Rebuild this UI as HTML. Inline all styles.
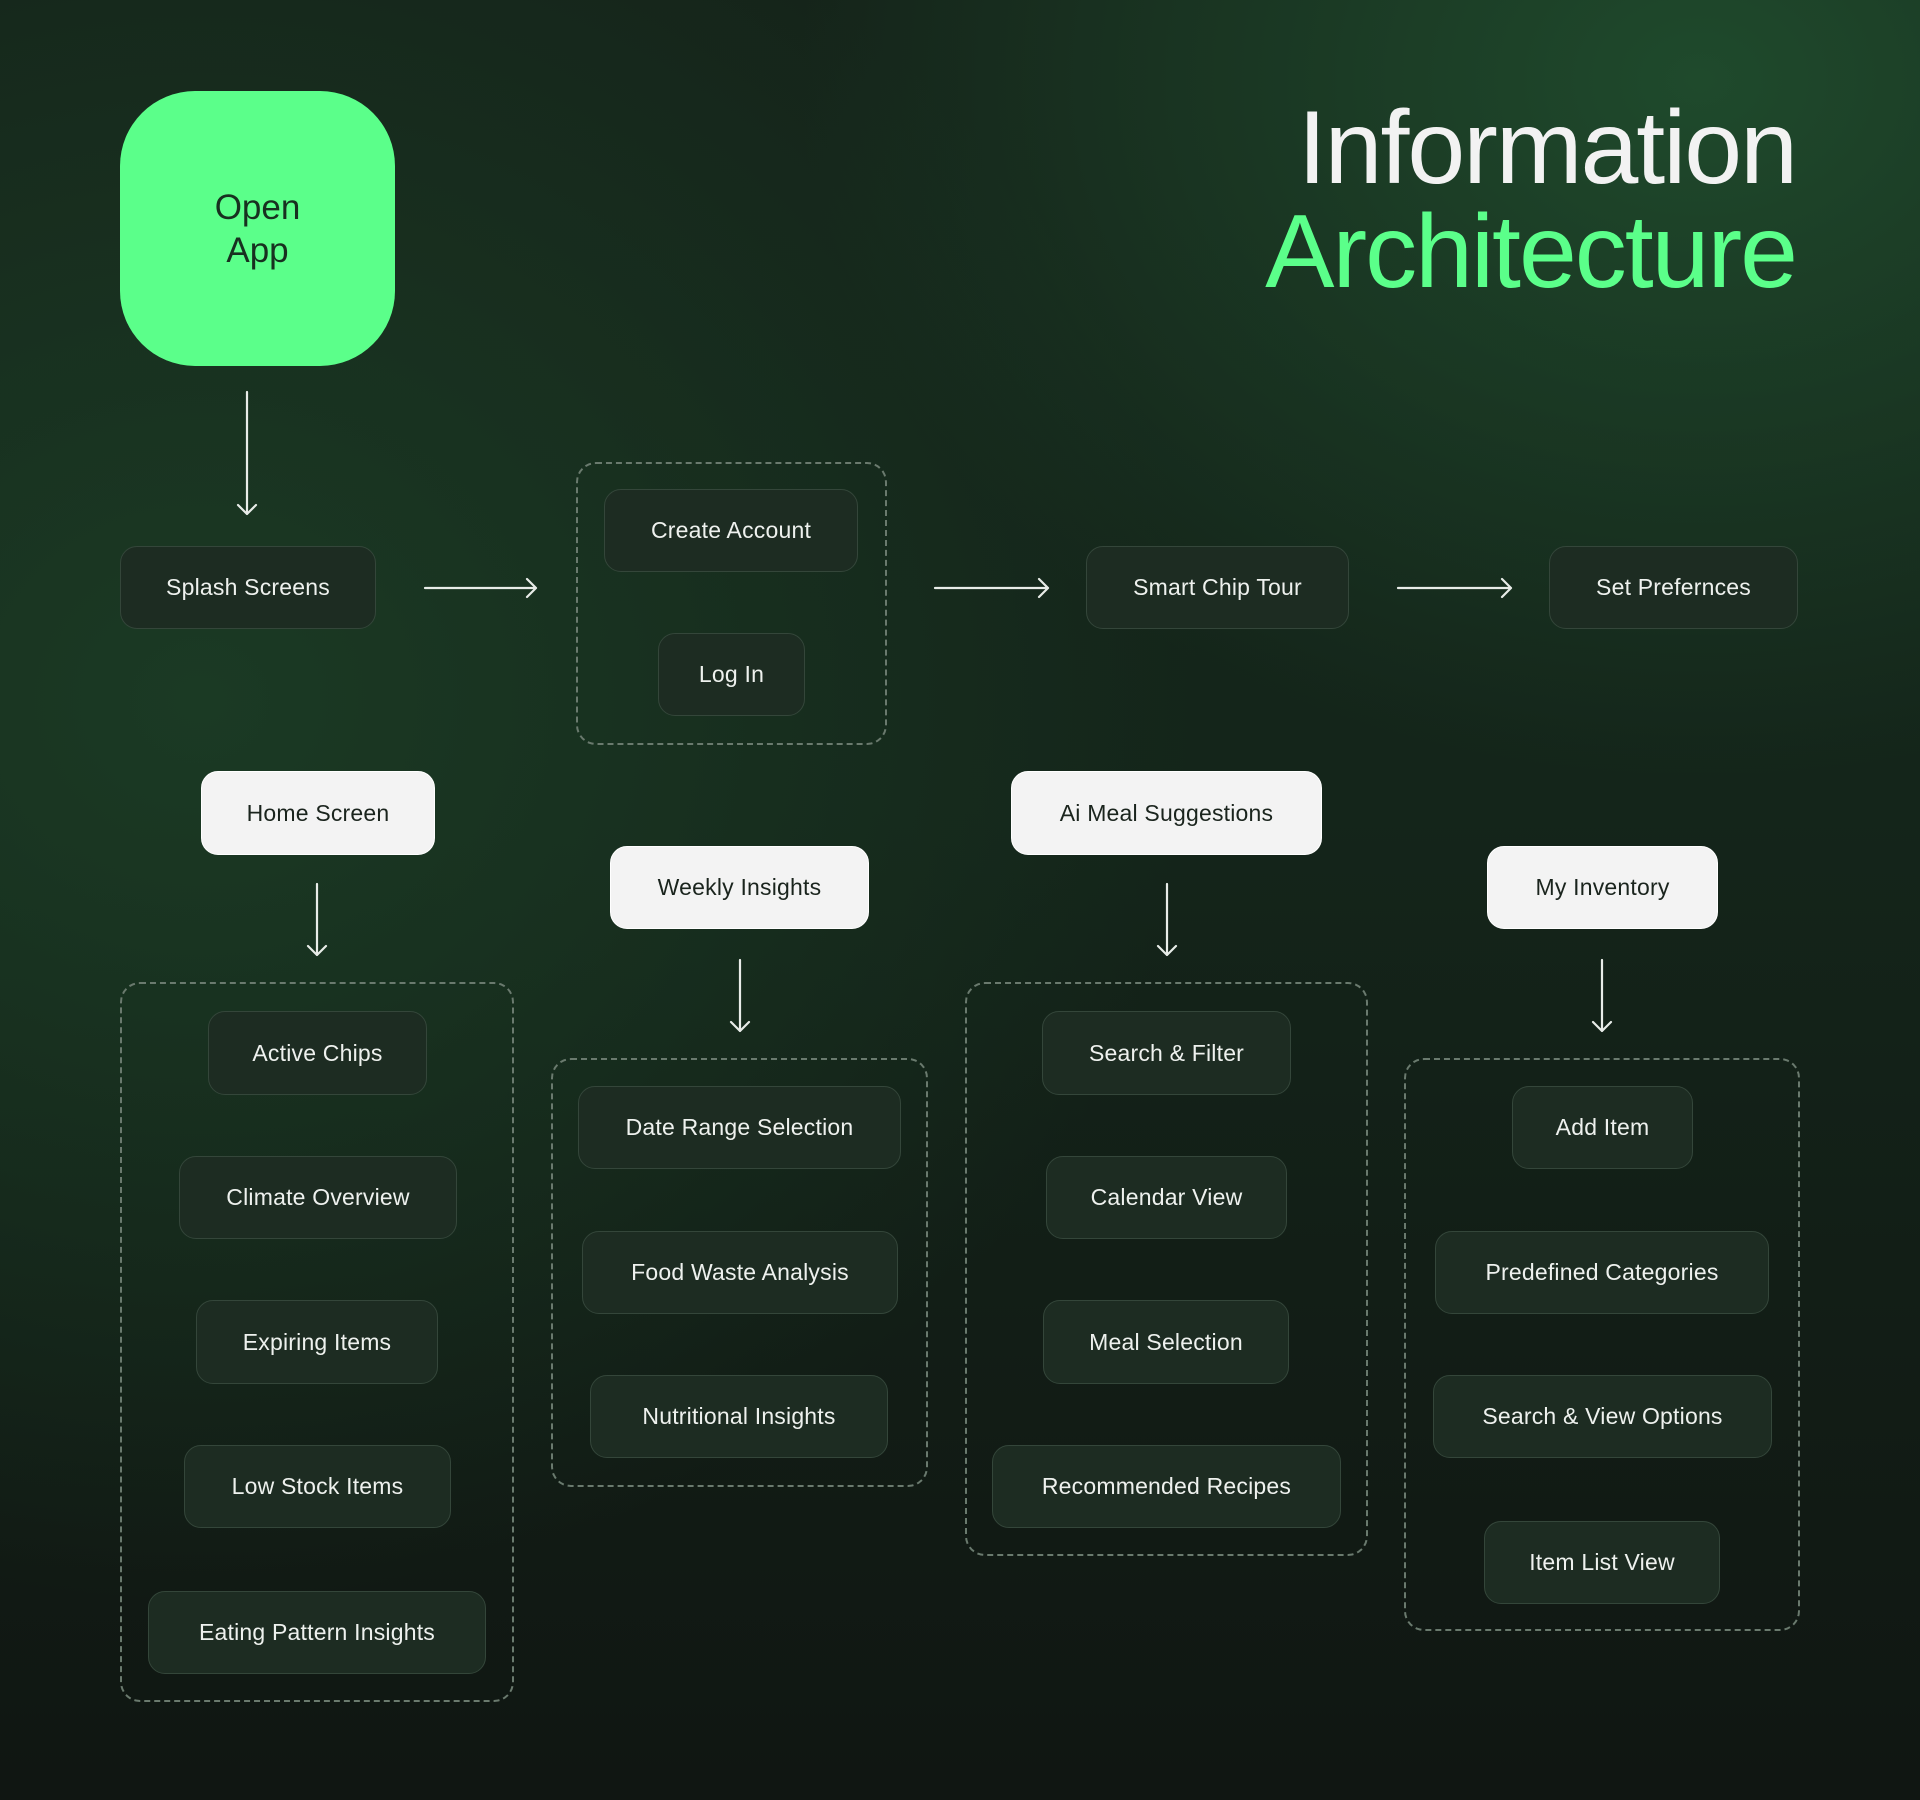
<!DOCTYPE html>
<html><head><meta charset="utf-8"><style>
*{margin:0;padding:0;box-sizing:border-box}
body{width:1920px;height:1800px;overflow:hidden;position:relative;font-family:"Liberation Sans",sans-serif;
background:radial-gradient(ellipse 900px 700px at 1700px 80px,#1f4a2c 0%,rgba(31,74,44,0) 100%),
radial-gradient(ellipse 1000px 900px at 200px 700px,#1b3a24 0%,rgba(27,58,36,0) 100%),
linear-gradient(180deg,#15241a 0%,#14251a 45%,#101612 100%);}
.b{position:absolute;display:flex;align-items:center;justify-content:center;background:#1d2c22;border:1.5px solid #34463a;border-radius:17px;color:#eef1ee;font-size:23px;letter-spacing:0.2px;white-space:nowrap}
.w{background:#f3f3f3;border-color:#fff;color:#1a241d}
.d{position:absolute;border:2px dashed #6a7a6e;border-radius:20px}
svg{position:absolute;left:0;top:0}
</style></head><body>
<div style="position:absolute;left:120px;top:91px;width:275px;height:275px;border-radius:75px;background:#5bff8a;display:flex;align-items:center;justify-content:center;text-align:center;color:#183020;font-size:35px;line-height:43px">Open<br>App</div>
<div style="position:absolute;right:124px;top:96px;text-align:right;font-size:104px;line-height:104px;letter-spacing:-2px"><div style="color:#f2f2f2">Information</div><div style="color:#5bff8a">Architecture</div></div>

<div class="d" style="left:576px;top:462px;width:311px;height:283px"></div>
<div class="d" style="left:120px;top:982px;width:394px;height:720px"></div>
<div class="d" style="left:551px;top:1058px;width:377px;height:429px"></div>
<div class="d" style="left:965px;top:982px;width:403px;height:574px"></div>
<div class="d" style="left:1404px;top:1058px;width:396px;height:573px"></div>

<div class="b" style="left:120px;top:546px;width:256px;height:83px">Splash Screens</div>
<div class="b" style="left:604px;top:489px;width:254px;height:83px">Create Account</div>
<div class="b" style="left:658px;top:633px;width:147px;height:83px">Log In</div>
<div class="b" style="left:1086px;top:546px;width:263px;height:83px">Smart Chip Tour</div>
<div class="b" style="left:1549px;top:546px;width:249px;height:83px">Set Prefernces</div>

<div class="b w" style="left:201px;top:771px;width:234px;height:84px">Home Screen</div>
<div class="b w" style="left:610px;top:846px;width:259px;height:83px">Weekly Insights</div>
<div class="b w" style="left:1011px;top:771px;width:311px;height:84px">Ai Meal Suggestions</div>
<div class="b w" style="left:1487px;top:846px;width:231px;height:83px">My Inventory</div>

<div class="b" style="left:208px;top:1011px;width:219px;height:84px">Active Chips</div>
<div class="b" style="left:179px;top:1156px;width:278px;height:83px">Climate Overview</div>
<div class="b" style="left:196px;top:1300px;width:242px;height:84px">Expiring Items</div>
<div class="b" style="left:184px;top:1445px;width:267px;height:83px">Low Stock Items</div>
<div class="b" style="left:148px;top:1591px;width:338px;height:83px">Eating Pattern Insights</div>

<div class="b" style="left:578px;top:1086px;width:323px;height:83px">Date Range Selection</div>
<div class="b" style="left:582px;top:1231px;width:316px;height:83px">Food Waste Analysis</div>
<div class="b" style="left:590px;top:1375px;width:298px;height:83px">Nutritional Insights</div>

<div class="b" style="left:1042px;top:1011px;width:249px;height:84px">Search &amp; Filter</div>
<div class="b" style="left:1046px;top:1156px;width:241px;height:83px">Calendar View</div>
<div class="b" style="left:1043px;top:1300px;width:246px;height:84px">Meal Selection</div>
<div class="b" style="left:992px;top:1445px;width:349px;height:83px">Recommended Recipes</div>

<div class="b" style="left:1512px;top:1086px;width:181px;height:83px">Add Item</div>
<div class="b" style="left:1435px;top:1231px;width:334px;height:83px">Predefined Categories</div>
<div class="b" style="left:1433px;top:1375px;width:339px;height:83px">Search &amp; View Options</div>
<div class="b" style="left:1484px;top:1521px;width:236px;height:83px">Item List View</div>

<svg width="1920" height="1800" fill="none" stroke="#e8ece8" stroke-width="2.2" stroke-linecap="round" stroke-linejoin="round">
<path d="M247 392V514M238 505l9 9 9-9"/>
<path d="M425 588H536M527 579l9 9-9 9"/>
<path d="M935 588H1048M1039 579l9 9-9 9"/>
<path d="M1398 588H1511M1502 579l9 9-9 9"/>
<path d="M317 884V955M308 946l9 9 9-9"/>
<path d="M740 960V1031M731 1022l9 9 9-9"/>
<path d="M1167 884V955M1158 946l9 9 9-9"/>
<path d="M1602 960V1031M1593 1022l9 9 9-9"/>
</svg>
</body></html>
